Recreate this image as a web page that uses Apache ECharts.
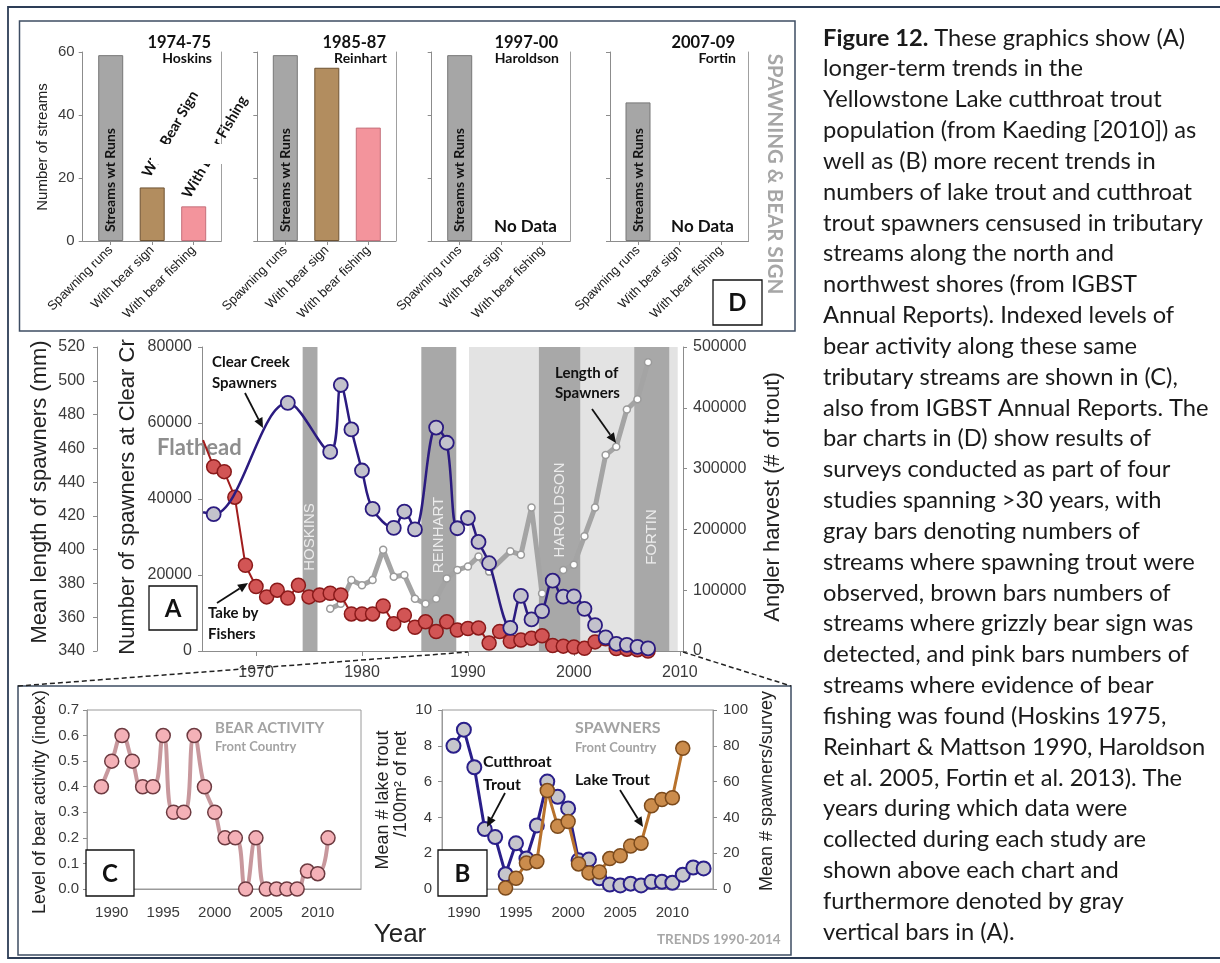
<!DOCTYPE html>
<html>
<head>
<meta charset="utf-8">
<script src="https://cdn.jsdelivr.net/npm/echarts@6/dist/echarts.min.js"></script>
<style>
  html, body { margin: 0; padding: 0; background: #ffffff; }
  #main { width: 1220px; height: 963px; }
</style>
</head>
<body>
<div id="main"></div>
<script>
// ---------- (D) stream surveys by study ----------
const studyYears = ['1974-75', '1985-87', '1997-00', '2007-09'];
const studyAuthors = ['Hoskins', 'Reinhart', 'Haroldson', 'Fortin'];
const surveyCategories = ['Spawning runs', 'With bear sign', 'With bear fishing'];
const streamsWithRuns = [59, 59, 59, 44];
const streamsWithBearSign = [17, 55, null, null];
const streamsWithBearFishing = [11, 36, null, null];
const streamTicks = [0, 20, 40, 60];

// ---------- (A) long-term trends ----------
const clearCreekYears = [1965, 1966, 1973, 1977, 1978, 1979, 1980, 1981, 1983, 1984,
  1985, 1987, 1988, 1989, 1990, 1991, 1992, 1994, 1995, 1996,
  1997, 1998, 1999, 2000, 2001, 2002, 2003, 2004, 2005, 2006, 2007];
const clearCreekSpawners = [36500, 36000, 65300, 52400, 70000, 58300, 47500, 37400, 32400, 36700,
  32000, 58800, 54800, 32300, 35000, 28700, 23100, 6100, 14500, 8300,
  10500, 18500, 14300, 14400, 11100, 6800, 3600, 1900, 1600, 1100, 700];

const harvestYears = [1965, 1966, 1967, 1968, 1969, 1970, 1971, 1972, 1973, 1974,
  1975, 1976, 1977, 1978, 1979, 1980, 1981, 1982, 1983, 1984,
  1985, 1986, 1987, 1988, 1989, 1990, 1991, 1992, 1993, 1994,
  1995, 1996, 1997, 1998, 1999, 2000, 2001, 2002, 2003, 2004,
  2005, 2006, 2007];
const takeByFishers = [347000, 303000, 295000, 253000, 141000, 106000, 89000, 100000, 87000, 108000,
  89000, 92000, 95000, 92000, 61000, 61000, 61000, 74000, 45000, 59000,
  39000, 48000, 32000, 48000, 34500, 37000, 38000, 13000, 32000, 16000,
  18000, 21000, 25000, 9000, 8000, 6500, 4400, 15000, 20000, 4000,
  3000, 2000, 0];

const lengthYears = [1977, 1978, 1979, 1980, 1981, 1982, 1983, 1984, 1985, 1986,
  1987, 1988, 1989, 1990, 1991, 1992, 1994, 1995, 1996, 1997,
  1998, 1999, 2000, 2001, 2002, 2003, 2004, 2005, 2006, 2007];
const lengthOfSpawners = [365, 368, 382, 379, 382, 400, 384, 385, 371, 368,
  371, 383, 388, 390, 396, 387, 399, 397, 425, 374,
  381, 388, 391, 408, 425, 456, 461, 483, 489, 511];

const studyBandNames = ['HOSKINS', 'REINHART', 'HAROLDSON', 'FORTIN'];
const studyBandStart = [1974.4, 1985.6, 1996.7, 2005.7];
const studyBandEnd = [1975.8, 1988.9, 2000.6, 2009.0];
const recentPeriod = [1990.1, 2009.8];
const decadeTicks = [1970, 1980, 1990, 2000, 2010];

// ---------- (C) bear activity ----------
const bearYears = [1989, 1990, 1991, 1992, 1993, 1994, 1995, 1996, 1997, 1998,
  1999, 2000, 2001, 2002, 2003, 2004, 2005, 2006, 2007, 2008, 2009, 2010, 2011];
const bearActivity = [0.4, 0.5, 0.6, 0.5, 0.4, 0.4, 0.6, 0.3, 0.3, 0.6,
  0.4, 0.3, 0.2, 0.2, 0.0, 0.2, 0.0, 0.0, 0.0, 0.0, 0.07, 0.06, 0.2];

// ---------- (B) spawners ----------
const cutthroatYears = [1989, 1990, 1991, 1992, 1993, 1994, 1995, 1996, 1997, 1998,
  1999, 2000, 2001, 2002, 2003, 2004, 2005, 2006, 2007, 2008, 2009, 2010, 2011, 2012, 2013];
const cutthroatTrout = [8.0, 8.9, 6.8, 3.35, 2.9, 0.83, 2.55, 1.7, 3.55, 6.0,
  5.15, 4.5, 1.6, 1.65, 0.6, 0.25, 0.2, 0.3, 0.2, 0.4, 0.4, 0.35, 0.8, 1.2, 1.15];
const lakeTroutYears = [1994, 1995, 1996, 1997, 1998, 1999, 2000, 2001, 2002, 2003,
  2004, 2005, 2006, 2007, 2008, 2009, 2010, 2011];
const lakeTrout = [0.5, 6, 14.5, 15.4, 55, 35, 37.7, 14, 9, 9.5,
  17, 18.6, 24, 25.6, 46.5, 50, 51, 78.6];
const recentTicks = [1990, 1995, 2000, 2005, 2010];

const captionLines = [
  '{b|Figure 12.} These graphics show (A)',
  'longer-term trends in the',
  'Yellowstone Lake cutthroat trout',
  'population (from Kaeding [2010]) as',
  'well as (B) more recent trends in',
  'numbers of lake trout and cutthroat',
  'trout spawners censused in tributary',
  'streams along the north and',
  'northwest shores (from IGBST',
  'Annual Reports). Indexed levels of',
  'bear activity along these same',
  'tributary streams are shown in (C),',
  'also from IGBST Annual Reports. The',
  'bar charts in (D) show results of',
  'surveys conducted as part of four',
  'studies spanning >30 years, with',
  'gray bars denoting numbers of',
  'streams where spawning trout were',
  'observed, brown bars numbers of',
  'streams where grizzly bear sign was',
  'detected, and pink bars numbers of',
  'streams where evidence of bear',
  'fishing was found (Hoskins 1975,',
  'Reinhart & Mattson 1990, Haroldson',
  'et al. 2005, Fortin et al. 2013). The',
  'years during which data were',
  'collected during each study are',
  'shown above each chart and',
  'furthermore denoted by gray',
  'vertical bars in (A).'
];

// ---------- drawing ----------
const FONT = 'Liberation Sans';
const BOLD = 'Lato';
const AXIS = '#8c8c8c';
const TICKTXT = '#3a3a3a';
const plain = function (v) { return String(v); };

const chart = echarts.init(document.getElementById('main'), null, { renderer: 'canvas', width: 1220, height: 963 });

const grids = [], xAxes = [], yAxes = [], series = [];

function line(show, color) {
  return { show: show, onZero: false, lineStyle: { color: color || AXIS, width: 1 } };
}

// (D) four small bar charts
const dLeft = [82.7, 257.3, 431.7, 610];
const barStyles = [
  { color: '#a6a6a6', borderColor: '#777777', borderWidth: 1 },
  { color: '#b28d5f', borderColor: '#6e5333', borderWidth: 1 },
  { color: '#f3949c', borderColor: '#c46f7b', borderWidth: 1 }
];
dLeft.forEach(function (left, i) {
  grids.push({ left: left, top: 52, width: 138.5, height: 189, outerBoundsMode: 'none' });
  xAxes.push({
    type: 'value', gridIndex: i, min: -0.675, max: 2.663,
    splitLine: { show: false }, axisLine: line(true),
    axisTick: { show: true, customValues: [0, 1, 2], length: 4, lineStyle: { color: AXIS } },
    axisLabel: { customValues: [0, 1, 2], formatter: function (v) { return surveyCategories[v]; },
      rotate: 45, fontSize: 13, fontFamily: FONT, color: '#1a1a1a', margin: 7 }
  });
  yAxes.push({
    type: 'value', gridIndex: i, position: 'left', min: streamTicks[0], max: streamTicks[streamTicks.length - 1], interval: 20,
    splitLine: { show: false }, axisLine: line(true),
    axisTick: { show: true, length: 4, lineStyle: { color: AXIS } },
    axisLabel: { show: i === 0, formatter: plain, fontSize: 15, fontFamily: FONT, color: TICKTXT, margin: 8 }
  });
});
dLeft.forEach(function (left, i) {
  yAxes.push({
    type: 'value', gridIndex: i, position: 'right', min: 0, max: 60,
    splitLine: { show: false }, axisLine: line(true, '#a0a0a0'),
    axisTick: { show: false }, axisLabel: { show: false }
  });
});
dLeft.forEach(function (left, i) {
  const vals = [streamsWithRuns[i], streamsWithBearSign[i], streamsWithBearFishing[i]];
  const data = [];
  vals.forEach(function (v, k) {
    if (v == null) return;
    const item = { value: [k, v], itemStyle: barStyles[k] };
    if (k === 0) {
      item.label = {
        show: true, position: 'insideBottom', rotate: 90, align: 'left', verticalAlign: 'middle',
        distance: 9, formatter: 'Streams wt Runs', fontFamily: BOLD, fontWeight: 'bold', fontSize: 14, color: '#111'
      };
    }
    data.push(item);
  });
  series.push({ type: 'bar', xAxisIndex: i, yAxisIndex: i, barWidth: 25, data: data, silent: true, animation: false });
});

// (A) long-term trends: grid 4, yAxes 8 (length), 9 (Clear Creek), 10 (harvest)
grids.push({ left: 202, top: 347, width: 481, height: 304, outerBoundsMode: 'none' });
xAxes.push({
  type: 'value', gridIndex: 4, min: 1964.9, max: 2010.3, splitLine: { show: false }, axisLine: line(true),
  axisTick: { show: true, customValues: decadeTicks, length: 5, lineStyle: { color: AXIS } },
  axisLabel: { customValues: decadeTicks, formatter: plain, fontSize: 16, fontFamily: FONT, color: TICKTXT, margin: 14 }
});
yAxes.push({
  type: 'value', gridIndex: 4, position: 'left', offset: 105, min: 340, max: 520, interval: 20,
  splitLine: { show: false }, axisLine: line(true),
  axisTick: { show: true, length: 4, lineStyle: { color: AXIS } },
  axisLabel: { formatter: plain, fontSize: 16, fontFamily: FONT, color: TICKTXT, margin: 12 }
});
yAxes.push({
  type: 'value', gridIndex: 4, position: 'left', offset: 0, min: 0, max: 80000, interval: 20000,
  splitLine: { show: false }, axisLine: line(true),
  axisTick: { show: true, length: 4, lineStyle: { color: AXIS } },
  axisLabel: { formatter: plain, fontSize: 16, fontFamily: FONT, color: TICKTXT, margin: 10 }
});
yAxes.push({
  type: 'value', gridIndex: 4, position: 'right', min: 0, max: 500000, interval: 100000,
  splitLine: { show: false }, axisLine: line(true),
  axisTick: { show: true, length: 4, lineStyle: { color: AXIS } },
  axisLabel: { formatter: plain, fontSize: 16, fontFamily: FONT, color: TICKTXT, margin: 10 }
});

const bandAreas = [[{ xAxis: recentPeriod[0], itemStyle: { color: '#e3e3e3' } }, { xAxis: recentPeriod[1] }]];
studyBandNames.forEach(function (n, k) {
  bandAreas.push([{ xAxis: studyBandStart[k], itemStyle: { color: '#a8a8a8' } }, { xAxis: studyBandEnd[k] }]);
});
series.push({
  type: 'line', xAxisIndex: 4, yAxisIndex: 9, data: [], silent: true, z: 1, animation: false,
  markArea: { silent: true, label: { show: false }, data: bandAreas }
});
series.push({
  type: 'line', xAxisIndex: 4, yAxisIndex: 8, z: 3, silent: true, animation: false, showAllSymbol: true,
  data: lengthYears.map(function (y, k) { return [y, lengthOfSpawners[k]]; }),
  symbol: 'circle', symbolSize: 7,
  lineStyle: { color: '#a4a4a4', width: 5 },
  itemStyle: { color: '#ffffff', borderColor: '#9a9a9a', borderWidth: 1.5 }
});
series.push({
  type: 'line', xAxisIndex: 4, yAxisIndex: 10, z: 4, silent: true, animation: false, showAllSymbol: true,
  data: harvestYears.map(function (y, k) {
    const item = { value: [y, takeByFishers[k]] };
    if (k === 0) item.symbol = 'none';
    return item;
  }),
  symbol: 'circle', symbolSize: 14,
  lineStyle: { color: '#a11d1d', width: 2 },
  itemStyle: { color: '#d25555', borderColor: '#8a1a1a', borderWidth: 1.5 }
});
series.push({
  type: 'line', xAxisIndex: 4, yAxisIndex: 9, z: 5, silent: true, animation: false, showAllSymbol: true,
  smooth: 0.35,
  data: clearCreekYears.map(function (y, k) {
    const item = { value: [y, clearCreekSpawners[k]] };
    if (k === 0) item.symbol = 'none';
    return item;
  }),
  symbol: 'circle', symbolSize: 14,
  lineStyle: { color: '#2b1b80', width: 2.5 },
  itemStyle: { color: '#c3c2cc', borderColor: '#2b1b80', borderWidth: 1.8 }
});

// (C) bear activity: grid 5, yAxis 11
grids.push({ left: 87, top: 710, width: 274, height: 179, show: true, borderColor: '#9a9a9a', borderWidth: 1, outerBoundsMode: 'none' });
xAxes.push({
  type: 'value', gridIndex: 5, min: 1987.6, max: 2014.2, splitLine: { show: false }, axisLine: line(true, '#9a9a9a'),
  axisTick: { show: false },
  axisLabel: { customValues: recentTicks, formatter: plain, fontSize: 15, fontFamily: FONT, color: TICKTXT, margin: 16 }
});
yAxes.push({
  type: 'value', gridIndex: 5, min: 0, max: 0.7, interval: 0.1, splitLine: { show: false }, axisLine: line(true, '#9a9a9a'),
  axisTick: { show: true, length: 4, lineStyle: { color: AXIS } },
  axisLabel: { formatter: function (v) { return v.toFixed(1); }, fontSize: 15, fontFamily: FONT, color: TICKTXT, margin: 8 }
});
series.push({
  type: 'line', xAxisIndex: 5, yAxisIndex: 11, z: 3, silent: true, animation: false, showAllSymbol: true, smooth: 0.5,
  data: bearYears.map(function (y, k) { return [y, bearActivity[k]]; }),
  symbol: 'circle', symbolSize: 14,
  lineStyle: { color: '#c8989d', width: 4 },
  itemStyle: { color: '#f4b1b7', borderColor: '#6c3a40', borderWidth: 1.5 }
});

// (B) spawners: grid 6, yAxes 12 (lake trout nets), 13 (spawners/survey)
grids.push({ left: 442, top: 710, width: 271, height: 179, show: true, borderColor: '#9a9a9a', borderWidth: 1, outerBoundsMode: 'none' });
xAxes.push({
  type: 'value', gridIndex: 6, min: 1987.9, max: 2013.9, splitLine: { show: false }, axisLine: line(true, '#9a9a9a'),
  axisTick: { show: false },
  axisLabel: { customValues: recentTicks, formatter: plain, fontSize: 15, fontFamily: FONT, color: TICKTXT, margin: 16 }
});
yAxes.push({
  type: 'value', gridIndex: 6, position: 'left', min: 0, max: 10, interval: 2, splitLine: { show: false }, axisLine: line(true, '#9a9a9a'),
  axisTick: { show: true, length: 4, lineStyle: { color: AXIS } },
  axisLabel: { formatter: plain, fontSize: 15, fontFamily: FONT, color: TICKTXT, margin: 10 }
});
yAxes.push({
  type: 'value', gridIndex: 6, position: 'right', min: 0, max: 100, interval: 20, splitLine: { show: false }, axisLine: line(true, '#9a9a9a'),
  axisTick: { show: true, length: 4, lineStyle: { color: AXIS } },
  axisLabel: { formatter: plain, fontSize: 15, fontFamily: FONT, color: TICKTXT, margin: 10 }
});
series.push({
  type: 'line', xAxisIndex: 6, yAxisIndex: 12, z: 3, silent: true, animation: false, showAllSymbol: true,
  data: cutthroatYears.map(function (y, k) { return [y, cutthroatTrout[k]]; }),
  symbol: 'circle', symbolSize: 14,
  lineStyle: { color: '#2a1f8a', width: 3 },
  itemStyle: { color: '#c6c6cc', borderColor: '#2a1f8a', borderWidth: 2 }
});
series.push({
  type: 'line', xAxisIndex: 6, yAxisIndex: 13, z: 4, silent: true, animation: false, showAllSymbol: true,
  data: lakeTroutYears.map(function (y, k) { return [y, lakeTrout[k]]; }),
  symbol: 'circle', symbolSize: 14,
  lineStyle: { color: '#b8722c', width: 3 },
  itemStyle: { color: '#cb8c4c', borderColor: '#7b4a1c', borderWidth: 1.5 }
});

chart.setOption({
  animation: false,
  backgroundColor: '#ffffff',
  textStyle: { fontFamily: FONT },
  grid: grids, xAxis: xAxes, yAxis: yAxes, series: series
});

// ---------- annotations ----------
function txt(text, x, y, o) {
  o = o || {};
  const align = o.align || 'left', va = o.va || 'middle';
  return {
    type: 'text', x: x, y: y, rotation: o.rot || 0, z: o.z || 60, silent: true,
    style: {
      text: text, fontSize: o.size || 15, fontFamily: o.font || FONT, fontWeight: o.weight || 'normal',
      fill: o.color || '#222', align: align, verticalAlign: va, textAlign: align, textVerticalAlign: va,
      rich: o.rich
    }
  };
}
function rect(x, y, w, h, o) {
  o = o || {};
  return { type: 'rect', z: o.z || 50, silent: true, shape: { x: x, y: y, width: w, height: h },
    style: { fill: o.fill || 'none', stroke: o.stroke || null, lineWidth: o.lw || 1.5 } };
}
function arrow(x1, y1, x2, y2) {
  const a = Math.atan2(y2 - y1, x2 - x1), L = 10, W = 4.5;
  const bx = x2 - L * Math.cos(a), by = y2 - L * Math.sin(a);
  return [
    { type: 'line', z: 62, silent: true, shape: { x1: x1, y1: y1, x2: bx, y2: by }, style: { stroke: '#111', lineWidth: 1.8 } },
    { type: 'polygon', z: 62, silent: true,
      shape: { points: [[x2, y2], [bx + W * Math.sin(a), by - W * Math.cos(a)], [bx - W * Math.sin(a), by + W * Math.cos(a)]] },
      style: { fill: '#111' } }
  ];
}
function dashed(x1, y1, x2, y2) {
  return { type: 'line', z: 55, silent: true, shape: { x1: x1, y1: y1, x2: x2, y2: y2 },
    style: { stroke: '#222', lineWidth: 1.5, lineDash: [5, 3] } };
}
function letterBox(ch, x, y, w, h) {
  return [rect(x, y, w, h, { fill: '#ffffff', stroke: '#111', lw: 1.3, z: 70 }),
    txt(ch, x + w / 2, y + h / 2 + 1, { align: 'center', size: 24, weight: 'bold', font: BOLD, color: '#111', z: 71 })];
}

let g = [];
// frames
g.push(rect(8, 7, 1230, 951, { stroke: '#2d3d57', lw: 1.8 }));
g.push(rect(19.5, 21, 775.5, 310, { stroke: '#3e4d63', lw: 1.5 }));
g.push(rect(18, 686, 773, 269, { stroke: '#3e4d63', lw: 1.5 }));
g.push(dashed(18, 686, chart.convertToPixel({ xAxisIndex: 4 }, 1990), 652));
g.push(dashed(683, 652, 791, 686));

// (D) texts
const titleRight = [211, 386, 558, 735];
studyYears.forEach(function (t, i) {
  g.push(txt(t, titleRight[i], 43, { align: 'right', size: 16.5, weight: 'bold', font: BOLD, color: '#111' }));
  g.push(txt(studyAuthors[i], titleRight[i] + 1, 58, { align: 'right', size: 14, weight: 'bold', font: BOLD, color: '#111' }));
});
g.push(txt('No Data', 557, 227, { align: 'right', size: 17, weight: 'bold', font: BOLD, color: '#111' }));
g.push(txt('No Data', 734, 227, { align: 'right', size: 17, weight: 'bold', font: BOLD, color: '#111' }));
g.push(txt('Number of streams', 43, 147, { align: 'center', rot: Math.PI / 2, size: 15 }));
g.push(txt('SPAWNING & BEAR SIGN', 775, 174, { align: 'center', rot: -Math.PI / 2, size: 20.5, weight: 'bold', font: BOLD, color: '#a6a6a6' }));
g.push(txt('With Bear Sign', 146, 176, { rot: Math.PI / 3, size: 14.5, weight: 'bold', font: BOLD, color: '#111', z: 100 }));
g.push(txt('With Bear Fishing', 186, 197, { rot: Math.PI / 3, size: 14.5, weight: 'bold', font: BOLD, color: '#111', z: 100 }));
g.push(rect(151, 144, 82, 20, { fill: '#ffffff', stroke: null, z: 101 }));
g = g.concat(letterBox('D', 713, 280, 49, 45));

// (A) texts
g.push(txt('Mean length of spawners (mm)', 40, 492, { align: 'center', rot: Math.PI / 2, size: 22 }));
g.push(txt('Number of spawners at Clear Cr', 128, 497, { align: 'center', rot: Math.PI / 2, size: 22 }));
g.push(txt('Angler harvest (# of trout)', 773, 497, { align: 'center', rot: Math.PI / 2, size: 22 }));
const bandLabelY = [537, 535, 510, 537];
studyBandNames.forEach(function (n, k) {
  const cx = chart.convertToPixel({ xAxisIndex: 4 }, (studyBandStart[k] + studyBandEnd[k]) / 2);
  g.push(txt(n, cx, bandLabelY[k], { align: 'center', rot: Math.PI / 2, size: 15, color: '#ececec', z: 2 }));
});
g.push(txt('Flathead', 157, 448, { size: 22, weight: 'bold', font: BOLD, color: '#8e8e8e', z: 2 }));
g.push(txt('Clear Creek', 212, 362, { size: 15, weight: 'bold', font: BOLD, color: '#111' }));
g.push(txt('Spawners', 212, 383, { size: 15, weight: 'bold', font: BOLD, color: '#111' }));
g.push(txt('Take by', 208, 613, { size: 15, weight: 'bold', font: BOLD, color: '#111' }));
g.push(txt('Fishers', 208, 634, { size: 15, weight: 'bold', font: BOLD, color: '#111' }));
g.push(txt('Length of', 555, 373, { size: 15, weight: 'bold', font: BOLD, color: '#111' }));
g.push(txt('Spawners', 555, 393, { size: 15, weight: 'bold', font: BOLD, color: '#111' }));
g = g.concat(arrow(245, 393, 263, 428), arrow(217, 603, 248, 583), arrow(592, 409, 616, 443));
g = g.concat(letterBox('A', 149, 586, 48, 44));

// (C) texts
g.push(txt('Level of bear activity (index)', 40, 802, { align: 'center', rot: Math.PI / 2, size: 18 }));
g.push(txt('BEAR ACTIVITY', 215, 728, { size: 15, weight: 'bold', font: BOLD, color: '#a3a3a3' }));
g.push(txt('Front Country', 215, 747, { size: 13, weight: 'bold', font: BOLD, color: '#a3a3a3' }));
g = g.concat(letterBox('C', 86, 850, 48, 46));

// (B) texts
g.push(txt('Mean # lake trout', 383, 800, { align: 'center', rot: Math.PI / 2, size: 18 }));
g.push(txt('/100m² of net', 401, 784, { align: 'center', rot: Math.PI / 2, size: 18 }));
g.push(txt('Mean # spawners/survey', 767, 791, { align: 'center', rot: Math.PI / 2, size: 18 }));
g.push(txt('SPAWNERS', 575, 728, { size: 16, weight: 'bold', font: BOLD, color: '#a3a3a3' }));
g.push(txt('Front Country', 575, 748, { size: 13, weight: 'bold', font: BOLD, color: '#a3a3a3' }));
g.push(txt('Cutthroat', 483, 762, { size: 16, weight: 'bold', font: BOLD, color: '#111' }));
g.push(txt('Trout', 483, 785, { size: 16, weight: 'bold', font: BOLD, color: '#111' }));
g.push(txt('Lake Trout', 575, 780, { size: 16, weight: 'bold', font: BOLD, color: '#111' }));
g = g.concat(arrow(505, 793, 487, 827), arrow(620, 790, 643, 827));
g = g.concat(letterBox('B', 438, 850, 49, 46));
g.push(txt('Year', 400, 935, { align: 'center', size: 26 }));
g.push(txt('TRENDS 1990-2014', 657, 940, { size: 13.5, weight: 'bold', font: BOLD, color: '#a8a8a8' }));

// caption
captionLines.forEach(function (l, i) {
  g.push(txt(l, 823, 38 + i * 30.83, { size: 23.7, font: BOLD, color: '#1a1a1a',
    rich: { b: { fontWeight: 'bold', fontSize: 23.7, fontFamily: BOLD, fill: '#1a1a1a' } } }));
});

chart.setOption({ graphic: { elements: g } });
</script>
</body>
</html>
